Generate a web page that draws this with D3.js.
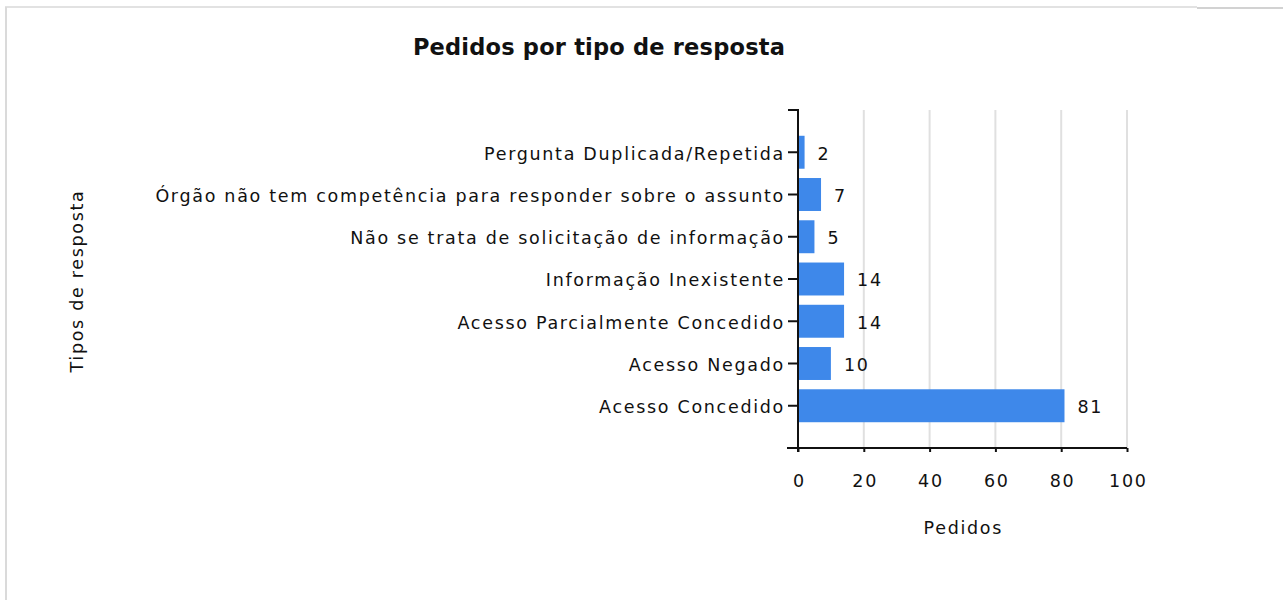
<!DOCTYPE html>
<html><head><meta charset="utf-8">
<script src="https://cdn.jsdelivr.net/npm/d3@7"></script>
<style>
html,body{margin:0;padding:0;background:#fff;}
svg{display:block;}
text{font-family:"DejaVu Sans",sans-serif;fill:#111;}
</style></head>
<body>
<svg id="chart" width="1283" height="600"></svg>
<script>
const categories = [
  "Pergunta Duplicada/Repetida",
  "Órgão não tem competência para responder sobre o assunto",
  "Não se trata de solicitação de informação",
  "Informação Inexistente",
  "Acesso Parcialmente Concedido",
  "Acesso Negado",
  "Acesso Concedido"
];
const values = [2, 7, 5, 14, 14, 10, 81];
const xTicks = [0, 20, 40, 60, 80, 100];
const title = "Pedidos por tipo de resposta";
const xTitle = "Pedidos";
const yTitle = "Tipos de resposta";

const svg = d3.select("#chart");
const FS = 17.5, LS = 1.7;

// frame borders
svg.append("rect").attr("x",5).attr("y",6).attr("width",1192).attr("height",2).attr("fill","#e2e2e2");
svg.append("rect").attr("x",1197).attr("y",7).attr("width",86).attr("height",2).attr("fill","#d2d2d2");
svg.append("rect").attr("x",5).attr("y",7).attr("width",2).attr("height",593).attr("fill","#dadada");

const pLeft = 798, pRight = 1127, pTop = 110, pBottom = 448;

const x = d3.scaleLinear().domain([0,100]).range([pLeft,pRight]);
const y = d3.scaleBand().domain(categories).range([pTop,pBottom]).paddingInner(0.22).paddingOuter(0.61);

// gridlines
svg.append("g").selectAll("line").data(xTicks.filter(d=>d>0)).join("line")
  .attr("x1",d=>x(d)).attr("x2",d=>x(d)).attr("y1",pTop).attr("y2",pBottom)
  .attr("stroke","#e0e0e0").attr("stroke-width",2);

// bars
svg.append("g").selectAll("rect").data(values).join("rect")
  .attr("x",x(0)).attr("y",(d,i)=>y(categories[i]))
  .attr("width",d=>x(d)-x(0)).attr("height",y.bandwidth())
  .attr("fill","#3e88ea");

// value labels
svg.append("g").selectAll("text").data(values).join("text")
  .attr("x",d=>x(d)+13).attr("y",(d,i)=>y(categories[i])+y.bandwidth()/2)
  .attr("dy","0.42em").attr("font-size",FS).attr("letter-spacing",LS).text(d=>d);

// y axis
const yAxis = d3.axisLeft(y).tickSize(10).tickSizeOuter(0).tickPadding(3);
const gy = svg.append("g").attr("transform",`translate(${pLeft},0)`).call(yAxis);
gy.select(".domain").attr("stroke","#111").attr("stroke-width",2).attr("d",`M-10,${pTop}H0V${pBottom+4}`);
gy.selectAll(".tick line").attr("stroke","#111").attr("stroke-width",2);
gy.selectAll(".tick text").attr("font-size",FS).attr("letter-spacing",LS).attr("dy","0.42em")
  .attr("fill","#111").style("font-family",'"DejaVu Sans",sans-serif');

// x axis
const xAxis = d3.axisBottom(x).tickValues(xTicks).tickSize(4).tickSizeOuter(0).tickPadding(23);
const gx = svg.append("g").attr("transform",`translate(0,${pBottom})`).call(xAxis);
gx.select(".domain").attr("stroke","#111").attr("stroke-width",2).attr("d",`M${pLeft-11},0H${pRight}`);
gx.selectAll(".tick line").attr("stroke","#111").attr("stroke-width",2);
gx.selectAll(".tick text").attr("font-size",FS).attr("letter-spacing",LS).attr("dx",LS/2)
  .attr("fill","#111").style("font-family",'"DejaVu Sans",sans-serif');

// titles
svg.append("text").attr("x",599).attr("y",55).attr("text-anchor","middle")
  .attr("font-size",22.5).attr("letter-spacing",0.2).attr("font-weight","bold").text(title);
svg.append("text").attr("x",(pLeft+pRight)/2 + LS/2).attr("y",534).attr("text-anchor","middle")
  .attr("font-size",FS).attr("letter-spacing",LS).text(xTitle);
svg.append("text").attr("transform",`translate(83,${(pTop+pBottom)/2 + 2}) rotate(-90)`).attr("text-anchor","middle")
  .attr("font-size",FS).attr("letter-spacing",LS).text(yTitle);
</script>
</body></html>
